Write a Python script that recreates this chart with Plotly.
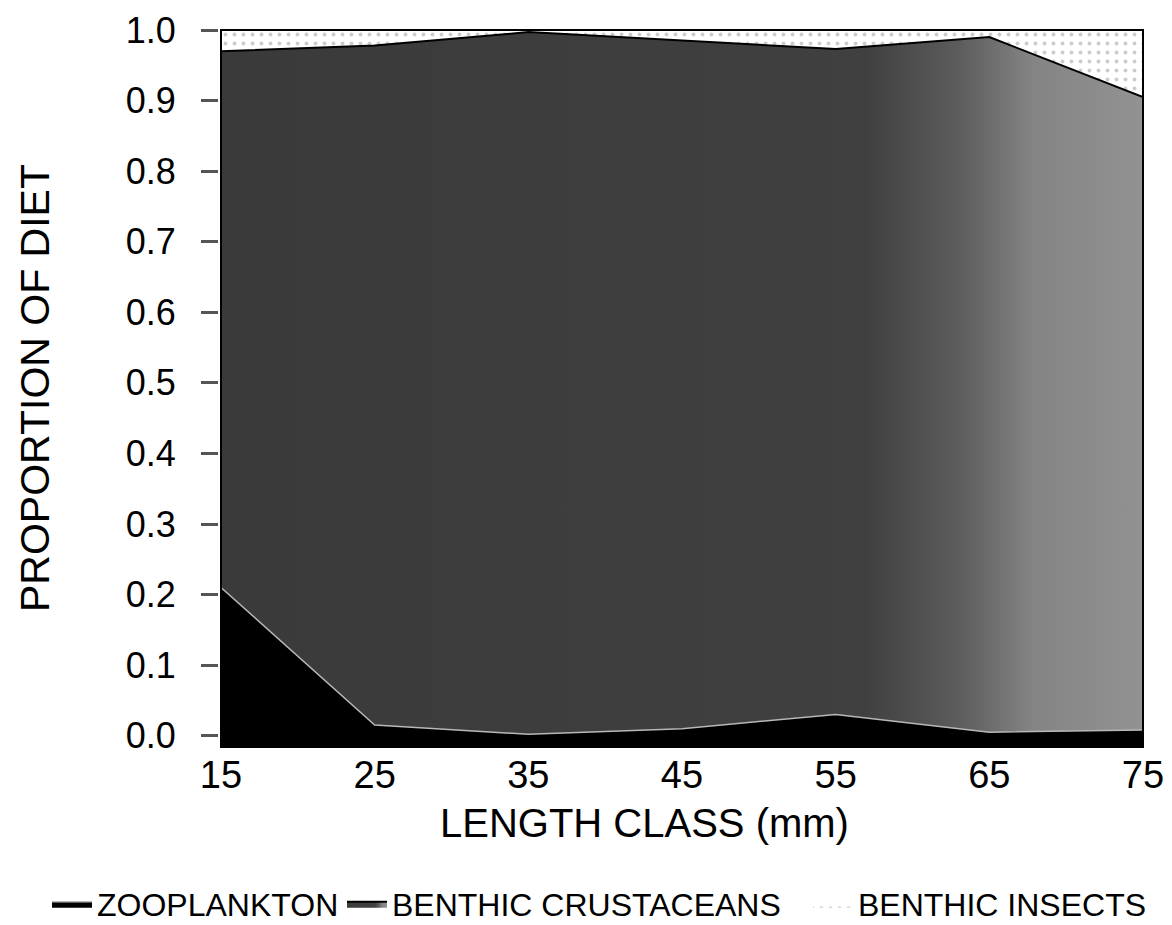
import plotly.graph_objects as go

# length classes (mm)
length_class = [15, 25, 35, 45, 55, 65, 75]

# proportion of diet
zooplankton = [0.21, 0.015, 0.002, 0.010, 0.030, 0.005, 0.008]
benthic_crustaceans = [0.760, 0.963, 0.995, 0.975, 0.943, 0.985, 0.897]
benthic_insects = [0.030, 0.022, 0.003, 0.015, 0.027, 0.010, 0.095]

y_ticks = [i / 10 for i in range(11)]
y_tick_text = [f"{v:.1f}" for v in y_ticks]
x_ticks = length_class

FONT = "Liberation Sans, Arial, Helvetica, sans-serif"

# the page body has an 8px margin, so the figure is drawn 8px smaller
W, H = 1164, 917

fig = go.Figure()

fig.add_trace(go.Scatter(
    x=length_class, y=zooplankton, name="ZOOPLANKTON",
    stackgroup="diet", mode="lines", legend="legend",
    line=dict(color="#b8b8b8", width=1.5),
    fillcolor="black",
))
fig.add_trace(go.Scatter(
    x=length_class, y=benthic_crustaceans, name="BENTHIC CRUSTACEANS",
    stackgroup="diet", mode="lines", legend="legend2",
    line=dict(color="black", width=2),
    fillgradient=dict(
        type="horizontal",
        colorscale=[[0, "#3a3a3a"], [0.7, "#404040"], [0.8, "#5c5c5c"],
                    [0.88, "#848484"], [1, "#929292"]],
    ),
))
fig.add_trace(go.Scatter(
    x=length_class, y=benthic_insects, name="BENTHIC INSECTS",
    stackgroup="diet", mode="lines", legend="legend3",
    line=dict(color="rgba(0,0,0,0)", width=0),
    fillcolor="white",
    fillpattern=dict(shape=".", fgcolor="#9a9a9a", bgcolor="white",
                     size=9, solidity=0.15),
))

# plot frame
fig.add_shape(type="rect", xref="x domain", yref="y domain",
              x0=0, x1=1, y0=0, y1=1,
              line=dict(color="black", width=2), layer="above")

fig.add_annotation(text="LENGTH CLASS (mm)", xref="paper", yref="paper",
                   x=(644 - 201) / 942, y=-(823 - 747) / 717,
                   yanchor="middle", showarrow=False,
                   font=dict(size=40, color="black"))
fig.add_annotation(text="PROPORTION OF DIET", xref="paper", yref="paper",
                   x=-(201 - 35) / 942, y=0.5 + (388.5 - 388) / 717,
                   xanchor="center", textangle=-90, showarrow=False,
                   font=dict(size=41, color="black"))


def legend_box(left):
    return dict(
        orientation="h", xref="container", yref="container",
        x=left / W, xanchor="left", y=1 - 896 / H, yanchor="middle",
        font=dict(size=32), itemwidth=40, bgcolor="rgba(0,0,0,0)",
    )


fig.update_layout(
    width=W, height=H,
    margin=dict(l=193, r=29, t=22, b=178, autoexpand=False),
    paper_bgcolor="white",
    plot_bgcolor="black",
    font=dict(family=FONT, color="black", size=36),
    showlegend=True,
    legend=legend_box(39),
    legend2=legend_box(334),
    legend3=legend_box(800),
    xaxis=dict(
        domain=[20 / 942, 1], range=[15, 75], automargin=False,
        tickvals=x_ticks, ticks="", showgrid=False, zeroline=False,
        showline=False, ticklabelstandoff=2,
        tickfont=dict(size=38),
    ),
    yaxis=dict(
        range=[-0.016, 1.0], anchor="free", position=17 / 942,
        automargin=False,
        tickvals=y_ticks, ticktext=y_tick_text,
        ticks="outside", ticklen=17, tickwidth=3, tickcolor="#555",
        showgrid=False, zeroline=False, showline=False,
        ticklabelstandoff=18, tickfont=dict(size=36),
    ),
)

fig.write_html("out.html")
